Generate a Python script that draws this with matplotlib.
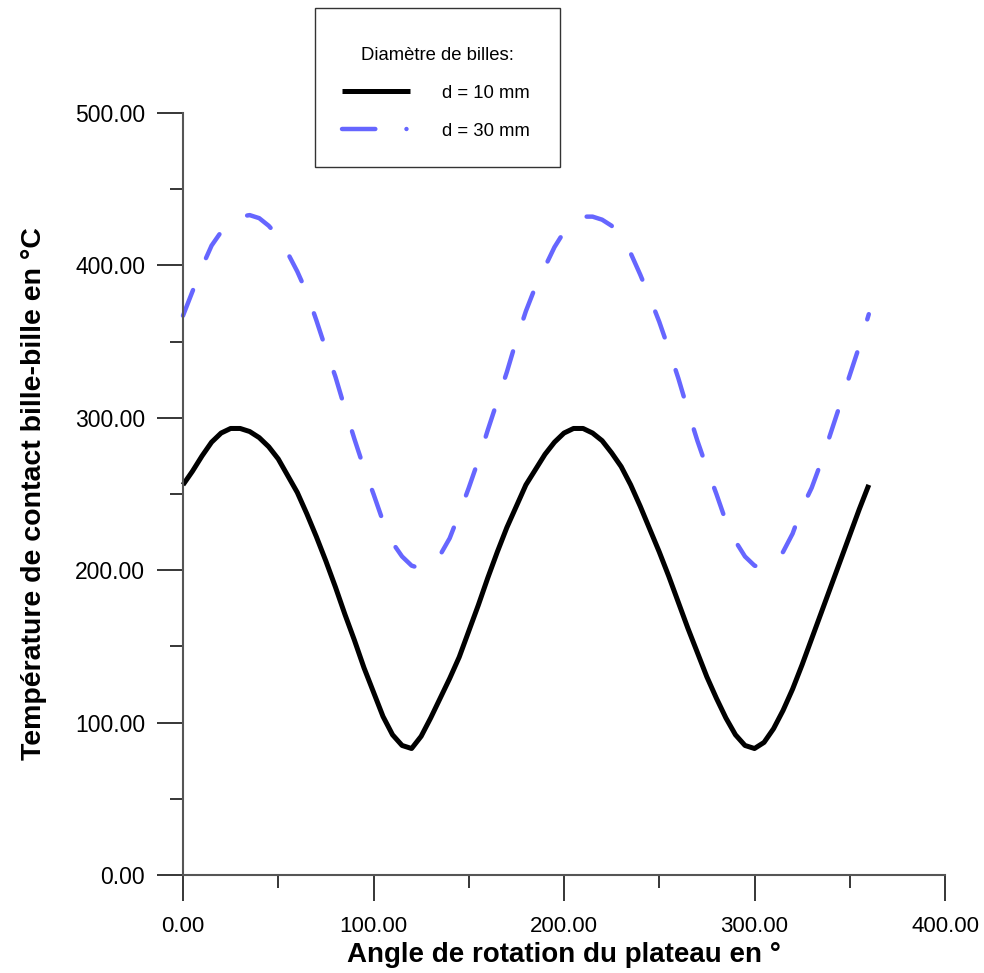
import matplotlib
matplotlib.use("Agg")
import matplotlib.pyplot as plt
from matplotlib.lines import Line2D
from matplotlib.patches import Rectangle
from matplotlib.ticker import MultipleLocator, FormatStrFormatter

plt.rcParams['font.family'] = ['Liberation Sans', 'DejaVu Sans']

# angle du plateau (degres), releve tous les 5 degres
angle = list(range(0, 365, 5))

# d = 10 mm
temp_10 = [256, 265, 275, 284, 290, 293, 293, 291, 287, 281,
           273, 262, 251, 237, 222, 206, 189, 171, 154, 136,
           120, 104, 92, 85, 83, 91, 103, 116, 129, 143,
           160, 177, 195, 212, 228, 242, 256, 266, 276, 284,
           290, 293, 293, 290, 285, 277, 268, 256, 242, 227,
           212, 196, 179, 162, 146, 130, 116, 103, 92, 85,
           83, 87, 96, 108, 122, 138, 155, 172, 189, 206,
           223, 240, 256]

# d = 30 mm
temp_30 = [367, 383, 399, 413, 422, 428, 432, 433, 431, 426,
           419, 408, 396, 382, 364, 345, 327, 306, 286, 267,
           250, 232, 218, 209, 203, 201, 203, 210, 221, 237,
           254, 272, 292, 311, 330, 351, 370, 386, 399, 412,
           422, 428, 432, 432, 430, 426, 418, 408, 394, 379,
           363, 345, 326, 305, 285, 267, 250, 232, 219, 209,
           203, 201, 205, 212, 224, 241, 254, 271, 290, 309,
           328, 347, 368]

labels = ['d = 10 mm', 'd = 30 mm']
colors = ['black', '#6666ff']

W, H = 984, 973
fig = plt.figure(figsize=(W / 100, H / 100), dpi=100)
ax = fig.add_axes([183 / W, 1 - 875 / H, 762 / W, 762 / H])

ax.plot(angle, temp_10, color=colors[0], lw=3.6, solid_capstyle='butt',
        solid_joinstyle='round', clip_on=False)
ax.plot(angle, temp_30, color=colors[1], lw=3.2, dashes=(6.2, 7.75),
        dash_capstyle='round', dash_joinstyle='round', clip_on=False)

ax.set_xlim(0, 400)
ax.set_ylim(0, 500)
ax.xaxis.set_major_locator(MultipleLocator(100))
ax.xaxis.set_minor_locator(MultipleLocator(50))
ax.yaxis.set_major_locator(MultipleLocator(100))
ax.yaxis.set_minor_locator(MultipleLocator(50))
ax.xaxis.set_major_formatter(FormatStrFormatter('%.2f'))
ax.yaxis.set_major_formatter(FormatStrFormatter('%.2f'))

for s in ['top', 'right']:
    ax.spines[s].set_visible(False)
for s in ['left', 'bottom']:
    ax.spines[s].set_color('#555555')
    ax.spines[s].set_linewidth(1.5)

ax.tick_params(which='major', direction='out', length=18.7, width=1.1, color='black')
ax.tick_params(which='minor', direction='out', length=9.4, width=1.1, color='black')
ax.tick_params(axis='y', which='major', pad=8.5, labelsize=16.5)
ax.tick_params(axis='x', which='major', pad=11, labelsize=16)

ax.set_xlabel('Angle de rotation du plateau en °', fontsize=20, fontweight='bold', labelpad=3.5)
ax.set_ylabel('Température de contact bille-bille en °C', fontsize=20.5, fontweight='bold', labelpad=20)

# legende : cadre dessine a part, contenu place dedans
fig.add_artist(Rectangle((315 / W, 1 - 167 / H), 245 / W, 159 / H, transform=fig.transFigure,
                         fill=False, edgecolor='#333333', lw=1.0))
h1 = Line2D([], [], color=colors[0], lw=3.6, solid_capstyle='butt')
h2 = Line2D([], [], color=colors[1], lw=3.2, dashes=(7.5, 7, 0.01, 10), dash_capstyle='round')
leg = fig.legend(handles=[h1, h2], labels=labels, title='Diamètre de billes:',
                 loc='upper left', bbox_to_anchor=(313 / W, 1 - 177 / H, 249 / W, 159 / H),
                 mode='expand', borderaxespad=0, borderpad=1.55, labelspacing=1.14,
                 handlelength=3.7, handletextpad=1.75, fontsize=13.3, title_fontsize=13.3,
                 frameon=False)

fig.savefig('out.png', dpi=100)
